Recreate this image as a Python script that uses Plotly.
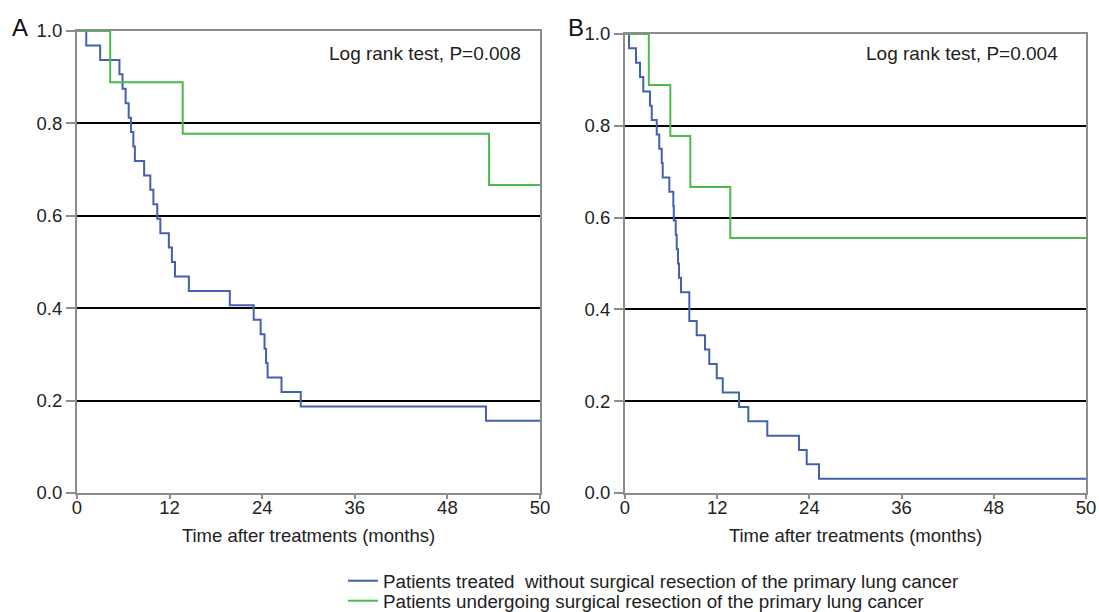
import plotly.graph_objects as go

# ---------------- data ----------------
x_tickvals = [0, 12, 24, 36, 48, 60]
x_ticktext = ["0", "12", "24", "36", "48", "50"]
y_tickvals = [0.0, 0.2, 0.4, 0.6, 0.8, 1.0]
y_ticktext = ["0.0", "0.2", "0.4", "0.6", "0.8", "1.0"]

# Panel A - without surgery (n=32)
a_nosurg_t = [0, 1.2, 3.0, 5.5, 5.9, 6.3, 6.7, 7.0, 7.3, 7.5, 8.7, 9.5, 9.9, 10.4,
              10.8, 11.9, 12.3, 12.7, 14.5, 19.8, 22.9, 23.8, 24.3, 24.5, 24.7,
              26.5, 29.0, 53.0, 60]
a_nosurg_at_risk = [32, 31, 30, 29, 28, 27, 26, 25, 24, 23, 22, 21, 20, 19, 18, 17,
                    16, 15, 14, 13, 12, 11, 10, 9, 8, 7, 6, 5, 5]
a_nosurg_n = 32
# Panel A - with surgery (n=9)
a_surg_t = [0, 4.3, 13.7, 53.4, 60]
a_surg_at_risk = [9, 8, 7, 6, 6]
a_surg_n = 9

# Panel B - without surgery (n=32)
b_nosurg_t = [0, 0.52, 1.43, 1.95, 2.38, 3.25, 3.48, 4.13, 4.46, 4.78, 4.91, 5.77,
              6.29, 6.35, 6.6, 6.73, 6.9, 7.03, 7.29, 8.37, 9.33, 10.41, 10.97,
              11.94, 12.72, 14.84, 16.05, 18.52, 22.65, 23.65, 25.25, 60]
b_nosurg_at_risk = [32, 31, 30, 29, 28, 27, 26, 25, 24, 23, 22, 21, 20, 19, 18, 17,
                    16, 15, 14, 12, 11, 10, 9, 8, 7, 6, 5, 4, 3, 2, 1, 1]
b_nosurg_n = 32
# Panel B - with surgery (n=9)
b_surg_t = [0, 3.1, 5.9, 8.5, 13.7, 60]
b_surg_at_risk = [9, 8, 7, 6, 5, 5]
b_surg_n = 9

pvals = ["Log rank test, P=0.008", "Log rank test, P=0.004"]
legend_names = ["Patients treated\u00a0 without surgical resection of the primary lung cancer",
                "Patients undergoing surgical resection of the primary lung cancer"]
x_title = "Time after treatments (months)"

BLUE = "#4461b0"
GREEN = "#4dba4d"
FRAME = "#8c8c8c"
TXT = "#222222"
FONT = "Liberation Sans, Arial, Helvetica, sans-serif"
FS = 18.5

fig = go.Figure()

def surv(counts, n):
    return [c / n for c in counts]

fig.add_trace(go.Scatter(x=a_nosurg_t, y=surv(a_nosurg_at_risk, a_nosurg_n), mode="lines",
                         line=dict(color=BLUE, width=2, shape="hv"), name=legend_names[0],
                         xaxis="x", yaxis="y", legend="legend", showlegend=True))
fig.add_trace(go.Scatter(x=a_surg_t, y=surv(a_surg_at_risk, a_surg_n), mode="lines",
                         line=dict(color=GREEN, width=2, shape="hv"), name=legend_names[1],
                         xaxis="x", yaxis="y", legend="legend2", showlegend=True))
fig.add_trace(go.Scatter(x=b_nosurg_t, y=surv(b_nosurg_at_risk, b_nosurg_n), mode="lines",
                         line=dict(color=BLUE, width=2, shape="hv"), name=legend_names[0],
                         xaxis="x2", yaxis="y2", showlegend=False))
fig.add_trace(go.Scatter(x=b_surg_t, y=surv(b_surg_at_risk, b_surg_n), mode="lines",
                         line=dict(color=GREEN, width=2, shape="hv"), name=legend_names[1],
                         xaxis="x2", yaxis="y2", showlegend=False))

# the page's body margin is removed after load, so the figure fills the 1099x612 window
OFF = 0
W, H = 1099 - OFF, 612 - OFF
ML, MR, MT, MB = 77 - OFF, 13, 31 - OFF, 119
PW, PH = W - ML - MR, H - MT - MB

def px_x(p):
    return (p - OFF - ML) / PW

def px_y(p):
    return (H - MB - (p - OFF)) / PH

xcommon = dict(range=[0, 60], tickmode="array", tickvals=x_tickvals, ticktext=x_ticktext,
               showline=True, linecolor=FRAME, linewidth=2, mirror=True,
               ticks="outside", ticklen=4, tickwidth=1.5, tickcolor=FRAME,
               ticklabelstandoff=-7,
               showgrid=False, zeroline=False, layer="below traces",
               tickfont=dict(size=FS, color=TXT, family=FONT),
               title=dict(text=x_title, font=dict(size=FS, color=TXT, family=FONT), standoff=12))
ycommon = dict(range=[0, 1], tickmode="array", tickvals=y_tickvals, ticktext=y_ticktext,
               showline=True, linecolor=FRAME, linewidth=2, mirror=True,
               ticks="outside", ticklen=9, tickwidth=1.5, tickcolor=FRAME,
               showgrid=True, gridcolor="#000000", gridwidth=1.5, zeroline=False,
               layer="below traces",
               tickfont=dict(size=FS, color=TXT, family=FONT))

legcommon = dict(xanchor="left", yanchor="middle", bgcolor="rgba(0,0,0,0)", borderwidth=0,
                 font=dict(size=18.8, color=TXT, family=FONT), itemwidth=30)

fig.update_layout(
    width=W, height=H,
    margin=dict(l=ML, r=MR, t=MT, b=MB, autoexpand=False),
    paper_bgcolor="white", plot_bgcolor="white",
    font=dict(family=FONT, color=TXT),
    xaxis=dict(domain=[0, px_x(540)], anchor="y", **xcommon),
    yaxis=dict(domain=[0, 1], anchor="x", **ycommon),
    xaxis2=dict(domain=[px_x(625), 1], anchor="y2", **xcommon),
    yaxis2=dict(domain=[0, px_y(34)], anchor="x2", **ycommon),
    legend=dict(x=px_x(343), y=px_y(581), **legcommon),
    legend2=dict(x=px_x(343), y=px_y(601), **legcommon),
    showlegend=True,
)

ann = []
ann.append(dict(text="A", x=px_x(20), y=px_y(27), xref="paper", yref="paper",
                xanchor="center", yanchor="middle", showarrow=False,
                font=dict(size=24, color="#111", family=FONT)))
ann.append(dict(text="B", x=px_x(576), y=px_y(27), xref="paper", yref="paper",
                xanchor="center", yanchor="middle", showarrow=False,
                font=dict(size=24, color="#111", family=FONT)))
ann.append(dict(text=pvals[0], x=px_x(425), y=px_y(53), xref="paper", yref="paper",
                xanchor="center", yanchor="middle", showarrow=False,
                font=dict(size=19, color=TXT, family=FONT)))
ann.append(dict(text=pvals[1], x=px_x(962), y=px_y(53), xref="paper", yref="paper",
                xanchor="center", yanchor="middle", showarrow=False,
                font=dict(size=19, color=TXT, family=FONT)))
fig.update_layout(annotations=ann)

fig.write_html("out.html",
               config={"displayModeBar": False},
               post_script="document.body.style.margin='0px';"
                           "document.documentElement.style.overflow='hidden';")
